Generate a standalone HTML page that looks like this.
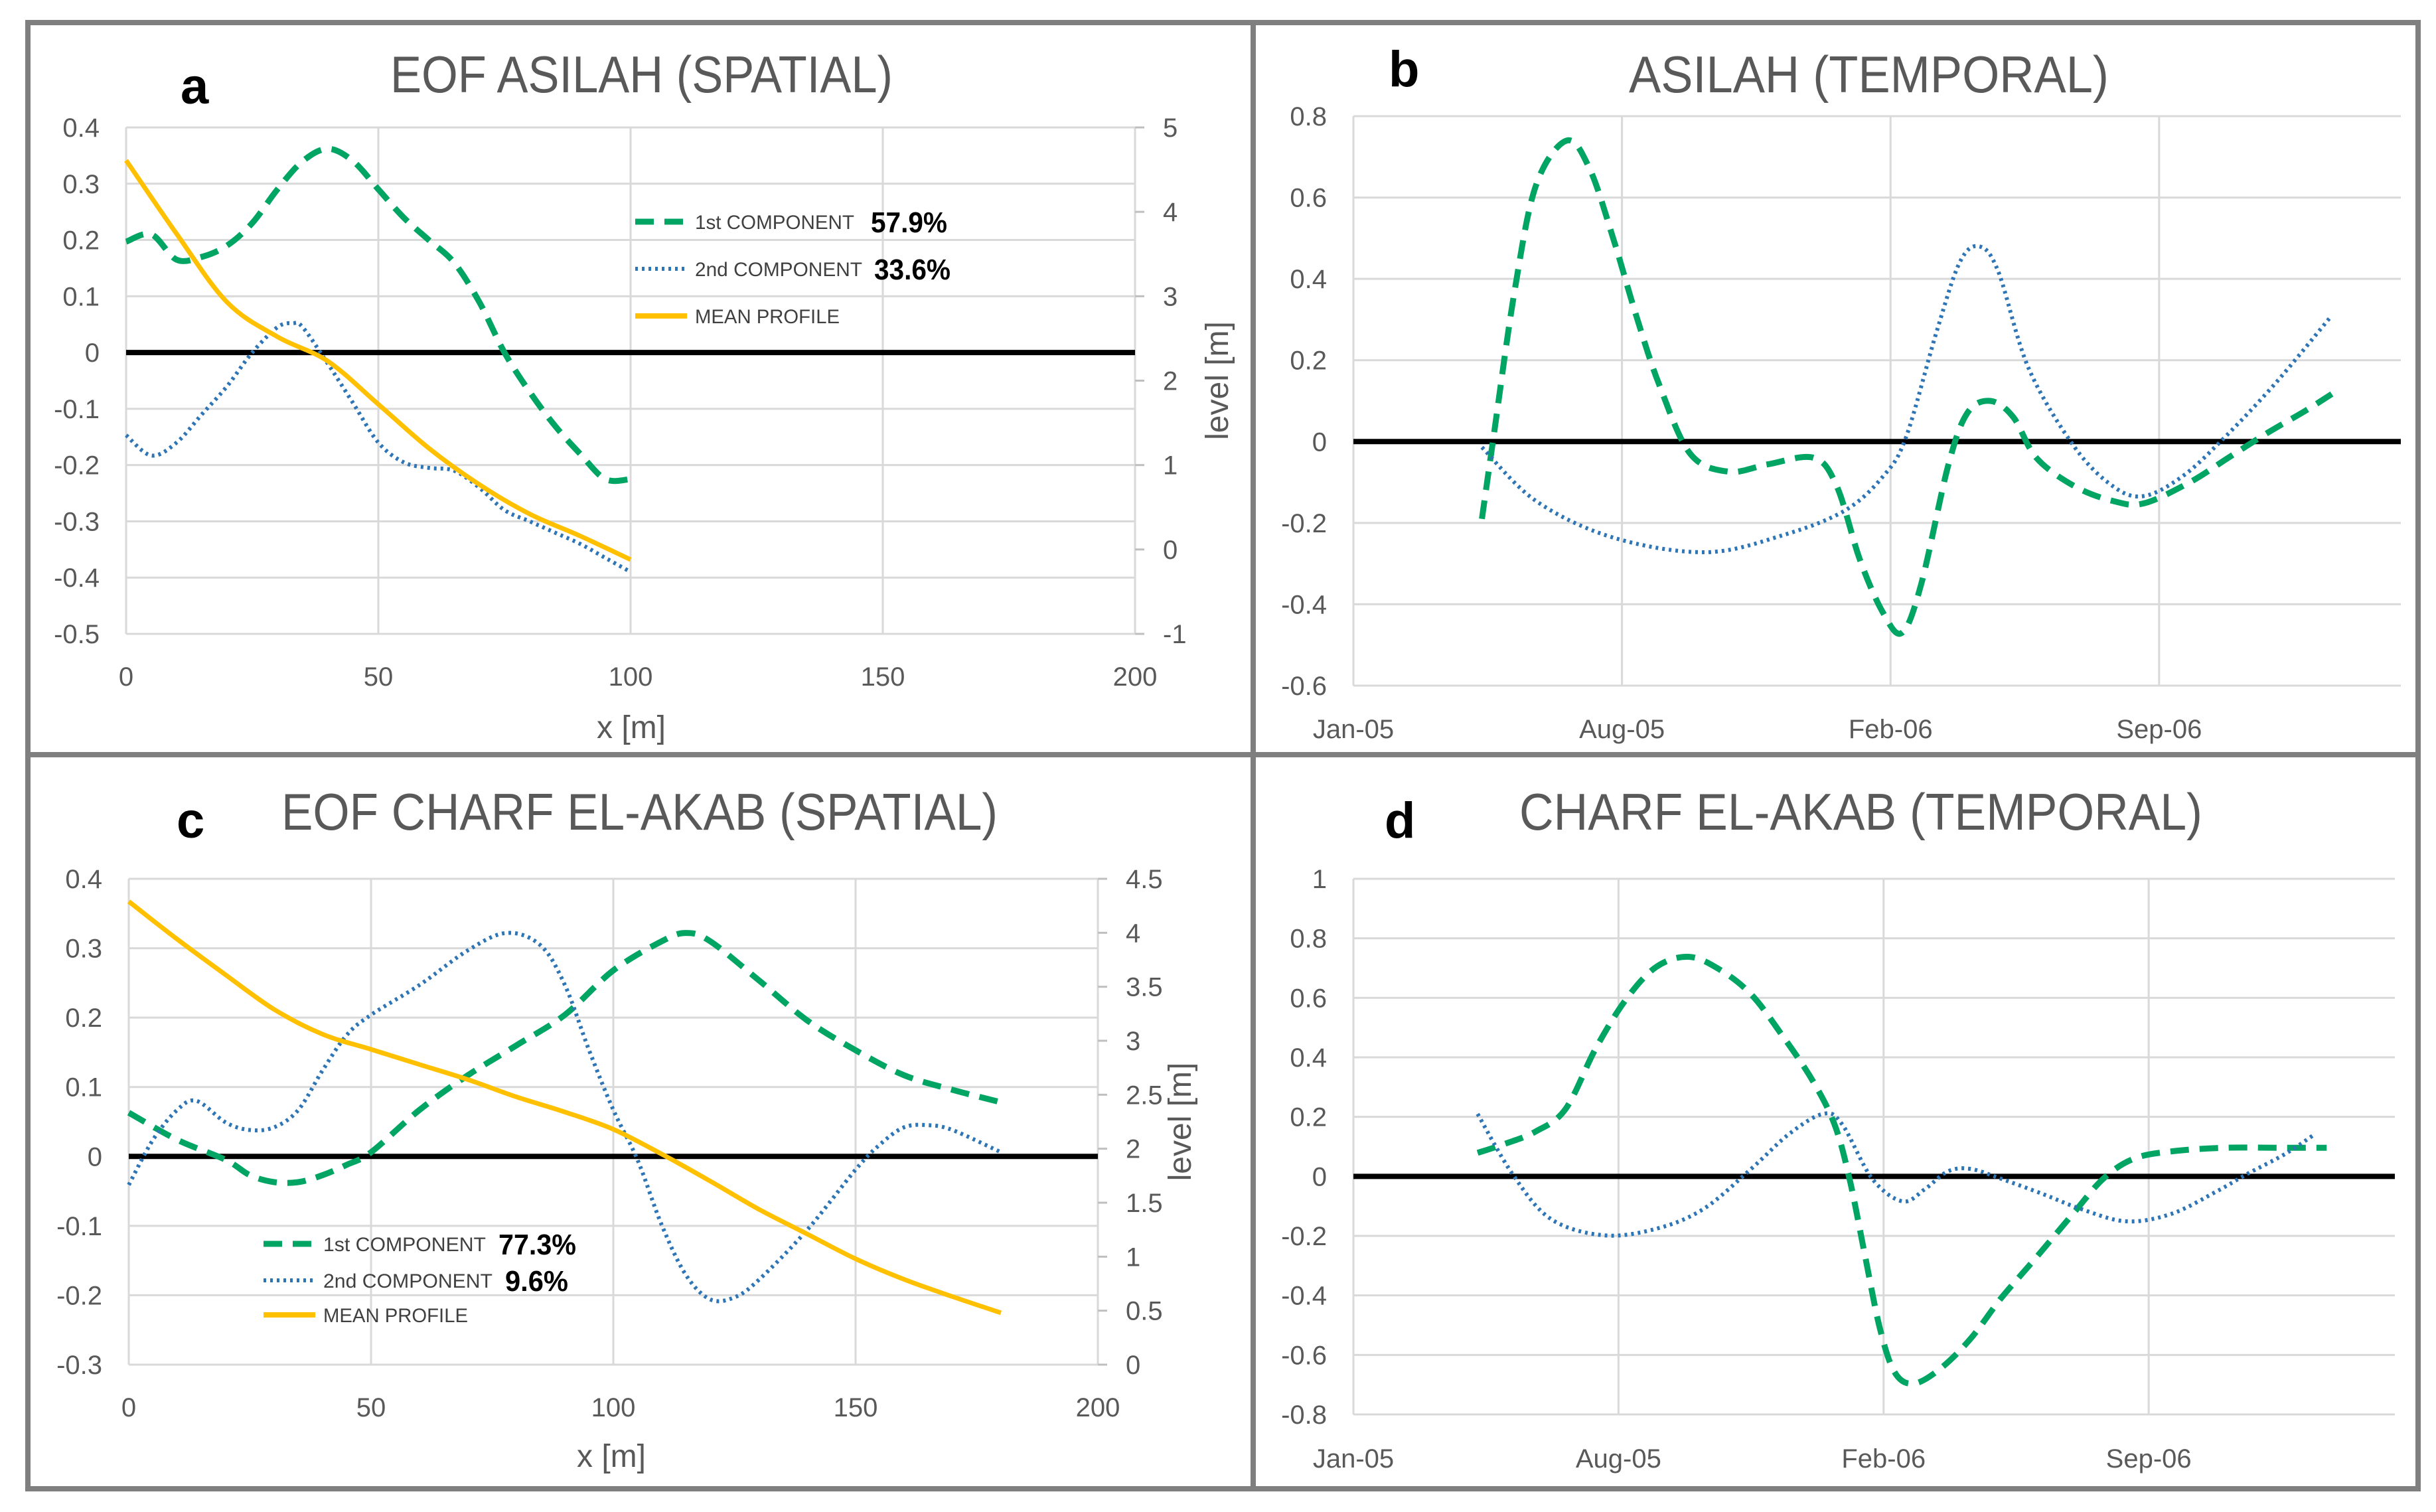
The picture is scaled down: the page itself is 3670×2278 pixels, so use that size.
<!DOCTYPE html>
<html><head><meta charset="utf-8"><style>
html,body{margin:0;padding:0;background:#fff;}
svg{display:block;font-family:"Liberation Sans",sans-serif;}
</style></head><body>
<svg id="fig" width="3670" height="2278" viewBox="0 0 3670 2278" xmlns="http://www.w3.org/2000/svg">
<rect x="0" y="0" width="3670" height="2278" fill="#fff"/>
<g fill="none" stroke="#7f7f7f" stroke-width="8">
<rect x="42" y="34" width="3601" height="2209"/>
<line x1="1888" y1="34" x2="1888" y2="2243"/>
<line x1="42" y1="1137" x2="3643" y2="1137"/>
</g>
<g id="layer"></g>
</svg>
<script>
// ---------- Panel a data ----------
const aX1 = [0,5,10,15,20,25,30,35,40,45,50,55,60,65,70,75,80,85,90,95,100];
const aComp1 = [0.197,0.21,0.165,0.17,0.19,0.23,0.29,0.34,0.362,0.34,0.29,0.24,0.20,0.16,0.09,0.0,-0.07,-0.13,-0.18,-0.225,-0.225];
const aX2 = [0,5,10,15,20,25,30,33,35,40,45,50,55,60,65,70,75,80,85,90,95,100];
const aComp2 = [-0.147,-0.183,-0.16,-0.11,-0.06,0.0,0.045,0.052,0.045,-0.02,-0.09,-0.16,-0.195,-0.205,-0.21,-0.24,-0.28,-0.30,-0.32,-0.34,-0.365,-0.39];
const aXm = [0,10,20,30,40,50,60,70,80,90,100];
const aMean = [4.61,3.74,2.93,2.52,2.23,1.72,1.20,0.77,0.42,0.16,-0.12];
const aLeftTicks = [0.4,0.3,0.2,0.1,0,-0.1,-0.2,-0.3,-0.4,-0.5];
const aRightTicks = [5,4,3,2,1,0,-1];
const aXTicks = [0,50,100,150,200];
// ---------- Panel b data (x in months from Jan-05) ----------
const bX1 = [3.35,3.65,4.2,4.76,5.56,6.16,6.77,7.37,7.97,8.78,9.78,10.8,12.0,12.6,13.2,13.8,14.3,14.8,15.5,16.0,16.6,17.2,17.8,18.8,19.8,20.6,21.8,22.8,23.8,24.8,25.5];
const bComp1 = [-0.19,0.01,0.37,0.63,0.74,0.67,0.50,0.31,0.14,-0.03,-0.074,-0.056,-0.04,-0.11,-0.29,-0.42,-0.47,-0.35,-0.06,0.07,0.10,0.06,-0.04,-0.11,-0.146,-0.152,-0.10,-0.04,0.02,0.075,0.117];
const bX2 = [3.35,4.76,6.77,9.18,11.2,12.8,13.8,14.4,15.2,15.8,16.3,16.8,17.6,18.8,19.8,20.6,21.6,22.6,24.0,25.5];
const bComp2 = [-0.014,-0.146,-0.236,-0.272,-0.23,-0.17,-0.086,0.01,0.27,0.44,0.48,0.42,0.18,-0.014,-0.11,-0.134,-0.086,0.0,0.14,0.31];
const bYTicks = [0.8,0.6,0.4,0.2,0,-0.2,-0.4,-0.6];
const dateTicks = ["Jan-05","Aug-05","Feb-06","Sep-06"];
const dateTickPos = [0,7,14,21];
// ---------- Panel c data ----------
const cX1 = [0,10,20,25,30,35,40,45,50,60,70,80,90,100,110,115,120,130,140,150,160,170,180];
const cComp1 = [0.063,0.024,-0.005,-0.027,-0.037,-0.037,-0.027,-0.012,0.006,0.067,0.117,0.16,0.204,0.268,0.31,0.322,0.31,0.254,0.196,0.153,0.117,0.096,0.078];
const cX2 = [0,5,10,14,20,25,30,35,40,45,50,60,70,78,85,90,95,100,105,110,115,120,125,130,140,150,155,160,165,170,180];
const cComp2 = [-0.041,0.024,0.067,0.08,0.049,0.038,0.042,0.067,0.124,0.175,0.204,0.247,0.297,0.322,0.304,0.247,0.153,0.067,-0.005,-0.099,-0.171,-0.206,-0.203,-0.178,-0.106,-0.019,0.017,0.042,0.045,0.038,0.006];
const cXm = [0,10,20,30,40,50,60,70,80,90,100,110,120,130,140,150,160,170,180];
const cMean = [4.29,3.94,3.61,3.29,3.06,2.92,2.78,2.64,2.48,2.34,2.18,1.95,1.70,1.44,1.21,0.98,0.79,0.63,0.48];
const cLeftTicks = [0.4,0.3,0.2,0.1,0,-0.1,-0.2,-0.3];
const cRightTicks = [4.5,4,3.5,3,2.5,2,1.5,1,0.5,0];
const cXTicks = [0,50,100,150,200];
// ---------- Panel d data ----------
const dX1 = [3.28,3.99,4.8,5.6,6.4,7.2,8.0,8.85,9.66,10.5,11.3,12.1,12.7,13.1,13.5,13.9,14.3,14.8,15.5,16.3,17.1,18.0,19.0,19.8,20.6,21.6,23.0,24.6,25.7];
const dComp1 = [0.079,0.109,0.15,0.226,0.43,0.595,0.704,0.738,0.696,0.612,0.478,0.327,0.176,-0.008,-0.26,-0.51,-0.66,-0.696,-0.646,-0.545,-0.41,-0.277,-0.126,-0.008,0.059,0.084,0.096,0.096,0.096];
const dX2 = [3.28,4.2,5.2,6.6,8.0,9.25,10.5,11.5,12.4,12.9,13.7,14.5,15.1,15.7,16.3,17.1,18.2,19.2,20.4,21.6,22.8,23.6,24.6,25.4];
const dComp2 = [0.21,0.008,-0.142,-0.198,-0.176,-0.109,0.025,0.142,0.21,0.176,-0.008,-0.084,-0.042,0.017,0.025,-0.008,-0.059,-0.109,-0.151,-0.126,-0.05,0.008,0.075,0.143];
const dYTicks = [1,0.8,0.6,0.4,0.2,0,-0.2,-0.4,-0.6,-0.8];

const NS = "http://www.w3.org/2000/svg";
const layer = document.getElementById('layer');
function mk(tag, attrs, parent, txt){
  const e = document.createElementNS(NS, tag);
  for (const k in attrs) e.setAttribute(k, attrs[k]);
  if (txt !== undefined) e.textContent = txt;
  (parent || layer).appendChild(e);
  return e;
}
function smooth(pts){
  let d = "M" + pts[0][0].toFixed(1) + "," + pts[0][1].toFixed(1);
  for (let i = 0; i < pts.length - 1; i++){
    const p0 = pts[i-1] || pts[i], p1 = pts[i], p2 = pts[i+1], p3 = pts[i+2] || pts[i+1];
    const c1x = p1[0] + (p2[0]-p0[0])/6, c1y = p1[1] + (p2[1]-p0[1])/6;
    const c2x = p2[0] - (p3[0]-p1[0])/6, c2y = p2[1] - (p3[1]-p1[1])/6;
    d += " C" + c1x.toFixed(1)+","+c1y.toFixed(1)+" "+c2x.toFixed(1)+","+c2y.toFixed(1)+" "+p2[0].toFixed(1)+","+p2[1].toFixed(1);
  }
  return d;
}
const GREEN = "#00a564", BLUE = "#2e75b6", GOLD = "#ffc000", TXT = "#595959";

function panel(P){
  const g = mk('g', {});
  
  
  const sx = v => P.L + (v - P.x0) / (P.x1 - P.x0) * (P.R - P.L);
  const sy = v => P.T + (P.y0 - v) / (P.y0 - P.y1) * (P.B - P.T);
  const sy2 = v => P.T + (P.r0 - v) / (P.r0 - P.r1) * (P.B - P.T);
  // gridlines
  P.yTicks.forEach(t => {
    const l = mk('line', {x1:P.L, x2:P.R, y1:sy(t), y2:sy(t), stroke:'#d9d9d9', 'stroke-width':3}, g);
    
    
    const tx = mk('text', {x:P.L-40, y:sy(t)+14, 'text-anchor':'end', 'font-size':40, fill:TXT}, g, String(t));
    
    
  });
  P.xTickPos.forEach((t, i) => {
    const l = mk('line', {x1:sx(t), x2:sx(t), y1:P.T, y2:P.B, stroke:'#d9d9d9', 'stroke-width':3}, g);
    
    
    const tx = mk('text', {x:sx(t), y:P.xlabY, 'text-anchor':'middle', 'font-size':40, fill:TXT}, g, String(P.xTickLabels[i]));
    
    
  });
  if (P.rTicks){
    const ax = mk('line', {x1:P.R, x2:P.R, y1:P.T, y2:P.B, stroke:'#d9d9d9', 'stroke-width':3}, g);
    
    
    P.rTicks.forEach(t => {
      const tk = mk('line', {x1:P.R, x2:P.R+14, y1:sy2(t), y2:sy2(t), stroke:'#bfbfbf', 'stroke-width':3}, g);
      
      
      const tx = mk('text', {x:P.R+42, y:sy2(t)+14, 'font-size':40, fill:TXT}, g, String(t));
      
      
    });
    const lv = mk('text', {x:0, y:0, transform:'translate('+(P.R+140)+','+((P.T+P.B)/2)+') rotate(-90)', 'text-anchor':'middle', 'font-size':48, fill:TXT}, g, 'level [m]');
    
    
  }
  // zero line
  const z = mk('line', {x1:P.L, x2:P.R, y1:sy(0), y2:sy(0), stroke:'#000', 'stroke-width':8}, g);
  
  
  // series
  P.series.forEach(s => {
    const pts = s.xs.map((x, i) => [sx(x), s.right ? sy2(s.ys[i]) : sy(s.ys[i])]);
    const p = mk('path', {d:smooth(pts), fill:'none', stroke:s.color, 'stroke-width':s.w, 'stroke-dasharray':s.dash||'none', 'stroke-linecap':s.cap||'butt'}, g);
    
    
  });
  // title & letter
  const ti = mk('text', {x:P.titleX, y:P.titleY, 'font-size':78, fill:TXT, textLength:P.titleW, lengthAdjust:'spacingAndGlyphs'}, g, P.title);
  
  
  const le = mk('text', {x:P.letterX, y:P.letterY, 'font-size':76, 'font-weight':'bold', fill:'#000'}, g, P.letter);
  
  
  if (P.xTitle){
    const xt = mk('text', {x:P.xTitleX, y:P.xTitleY, 'text-anchor':'middle', 'font-size':48, fill:TXT}, g, P.xTitle);
    
    
  }
  if (P.legend){
    const lg = P.legend;
    const lgG = mk('g', {}, g);
    
    
    const items = [
      {color:GREEN, w:9, dash:'28 16', label:'1st COMPONENT', pct:lg.p1, tw:lg.tw1},
      {color:BLUE, w:6, dash:'4 6', label:'2nd COMPONENT', pct:lg.p2, tw:lg.tw2},
      {color:GOLD, w:8, dash:'none', label:'MEAN PROFILE', pct:null, tw:lg.tw3}
    ];
    items.forEach((it, i) => {
      const y = lg.ys[i];
      const ent = mk('g', {}, lgG);
      
      
      mk('line', {x1:lg.x, x2:lg.x+78, y1:y, y2:y, stroke:it.color, 'stroke-width':it.w, 'stroke-dasharray':it.dash}, ent);
      mk('text', {x:lg.x+90, y:y+11, 'font-size':30, fill:'#404040', textLength:it.tw, lengthAdjust:'spacingAndGlyphs'}, ent, it.label);
      if (it.pct) mk('text', {x:lg.px[i], y:y+16, 'font-size':44, 'font-weight':'bold', fill:'#000', textLength:lg.pw[i], lengthAdjust:'spacingAndGlyphs'}, ent, it.pct);
    });
  }
}

panel({name:'panel-a-asilah-spatial', L:190, R:1710, T:192, B:955, x0:0, x1:200, y0:0.4, y1:-0.5, r0:5, r1:-1,
  yTicks:aLeftTicks, rTicks:aRightTicks, xTickPos:aXTicks, xTickLabels:aXTicks, xlabY:1033,
  title:'EOF ASILAH (SPATIAL)', titleX:588, titleY:139, titleW:757, letter:'a', letterX:272, letterY:156,
  xTitle:'x [m]', xTitleX:951, xTitleY:1112,
  legend:{x:957, ys:[334,405,476], tw1:240, tw2:252, tw3:218, p1:'57.9%', p2:'33.6%', px:[1312,1317], pw:[115,115]},
  series:[
    {name:'series-1st-component', xs:aX1, ys:aComp1, color:GREEN, w:9, dash:'28 16'},
    {name:'series-2nd-component', xs:aX2, ys:aComp2, color:BLUE, w:6, dash:'4 6'},
    {name:'series-mean-profile', xs:aXm, ys:aMean, color:GOLD, w:7, right:true}
  ]});

panel({name:'panel-b-asilah-temporal', L:2039, R:3617, T:175, B:1033, x0:0, x1:27.3, y0:0.8, y1:-0.6,
  yTicks:bYTicks, xTickPos:dateTickPos, xTickLabels:dateTicks, xlabY:1112,
  title:'ASILAH (TEMPORAL)', titleX:2454, titleY:139, titleW:723, letter:'b', letterX:2092, letterY:130,
  series:[
    {name:'series-1st-component', xs:bX1, ys:bComp1, color:GREEN, w:9, dash:'28 16'},
    {name:'series-2nd-component', xs:bX2, ys:bComp2, color:BLUE, w:6, dash:'4 6'}
  ]});

panel({name:'panel-c-charf-spatial', L:194, R:1654, T:1324, B:2056, x0:0, x1:200, y0:0.4, y1:-0.3, r0:4.5, r1:0,
  yTicks:cLeftTicks, rTicks:cRightTicks, xTickPos:cXTicks, xTickLabels:cXTicks, xlabY:2134,
  title:'EOF CHARF EL-AKAB (SPATIAL)', titleX:424, titleY:1250, titleW:1079, letter:'c', letterX:266, letterY:1262,
  xTitle:'x [m]', xTitleX:921, xTitleY:2210,
  legend:{x:397, ys:[1874,1929,1981], tw1:245, tw2:255, tw3:218, p1:'77.3%', p2:'9.6%', px:[751,761], pw:[117,95]},
  series:[
    {name:'series-1st-component', xs:cX1, ys:cComp1, color:GREEN, w:9, dash:'28 16'},
    {name:'series-2nd-component', xs:cX2, ys:cComp2, color:BLUE, w:6, dash:'4 6'},
    {name:'series-mean-profile', xs:cXm, ys:cMean, color:GOLD, w:7, right:true}
  ]});

panel({name:'panel-d-charf-temporal', L:2039, R:3608, T:1324, B:2131, x0:0, x1:27.5, y0:1, y1:-0.8,
  yTicks:dYTicks, xTickPos:dateTickPos, xTickLabels:dateTicks, xlabY:2211,
  title:'CHARF EL-AKAB (TEMPORAL)', titleX:2289, titleY:1250, titleW:1029, letter:'d', letterX:2086, letterY:1262,
  series:[
    {name:'series-1st-component', xs:dX1, ys:dComp1, color:GREEN, w:9, dash:'28 16'},
    {name:'series-2nd-component', xs:dX2, ys:dComp2, color:BLUE, w:6, dash:'4 6'}
  ]});
</script>
</body></html>
